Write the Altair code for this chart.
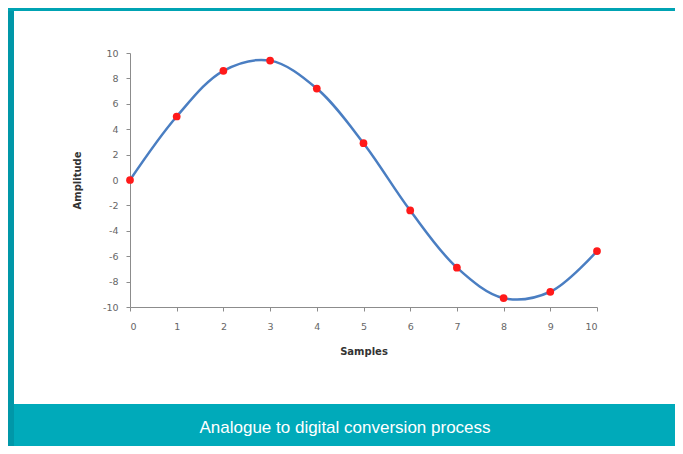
import altair as alt
import pandas as pd

samples = [0, 1, 2, 3, 4, 5, 6, 7, 8, 9, 10]
amplitude = [0.0, 5.0, 8.6, 9.4, 7.2, 2.9, -2.4, -6.9, -9.3, -8.8, -5.6]
y_ticks = [-10, -8, -6, -4, -2, 0, 2, 4, 6, 8, 10]
x_ticks = [0, 1, 2, 3, 4, 5, 6, 7, 8, 9, 10]
x_title = "Samples"
y_title = "Amplitude"
caption = "Analogue to digital conversion process"

df = pd.DataFrame({"Samples": samples, "Amplitude": amplitude})

W, H = 467, 254
PL, PT = 122, 45
TOTAL_W, TOTAL_H = 667, 438
PR = TOTAL_W - PL - W
PB = TOTAL_H - PT - H

x_enc = alt.X("Samples:Q",
              scale=alt.Scale(domain=[0, 10], nice=False),
              axis=alt.Axis(values=x_ticks, title=x_title, grid=False,
                            labelExpr="datum.value", labelPadding=10, titlePadding=16,
                            labelOverlap=False))
y_enc = alt.Y("Amplitude:Q",
              scale=alt.Scale(domain=[-10, 10], nice=False),
              axis=alt.Axis(values=y_ticks, title=y_title, grid=False,
                            labelExpr="datum.value", labelPadding=8, titlePadding=20,
                            labelOverlap=False))

base = alt.Chart(df).encode(x=x_enc, y=y_enc)
line = base.mark_line(interpolate="catmull-rom", color="#4A7EC2", strokeWidth=2.5)
pts = base.mark_circle(color="#FF1A1A", size=60, opacity=1)

one = alt.Data(values=[{"k": 1}])
left_bar = alt.Chart(one).mark_rect(color="#0097A8").encode(
    x=alt.value(-PL), x2=alt.value(-PL + 6), y=alt.value(-PT), y2=alt.value(H + PB))
top_bar = alt.Chart(one).mark_rect(color="#00A3B3").encode(
    x=alt.value(-PL), x2=alt.value(W + PR), y=alt.value(-PT), y2=alt.value(-PT + 3))
cap_bar = alt.Chart(one).mark_rect(color="#00AABA").encode(
    x=alt.value(-PL + 6), x2=alt.value(W + PR), y=alt.value(396 - PT), y2=alt.value(H + PB))
cap_text = alt.Chart(one).mark_text(color="white", font="Liberation Sans", fontSize=17,
                                    align="center", baseline="middle").encode(
    x=alt.value(337 - PL), y=alt.value(420 - PT), text=alt.value(caption))

chart = alt.layer(line, pts, left_bar, top_bar, cap_bar, cap_text).properties(
    width=W, height=H,
    padding={"left": PL, "top": PT, "right": PR, "bottom": PB},
    autosize=alt.AutoSizeParams(type="none"),
    background="white",
).configure_view(strokeWidth=0).configure_axis(
    domainColor="#8C8C8C", tickColor="#8C8C8C", tickSize=4,
    labelColor="#666666", labelFont="DejaVu Sans", labelFontSize=9.5,
    titleFont="DejaVu Sans", titleFontSize=10, titleFontWeight="bold", titleColor="#333333",
)

chart.save("out.html", embed_options={"renderer": "svg", "actions": False})
